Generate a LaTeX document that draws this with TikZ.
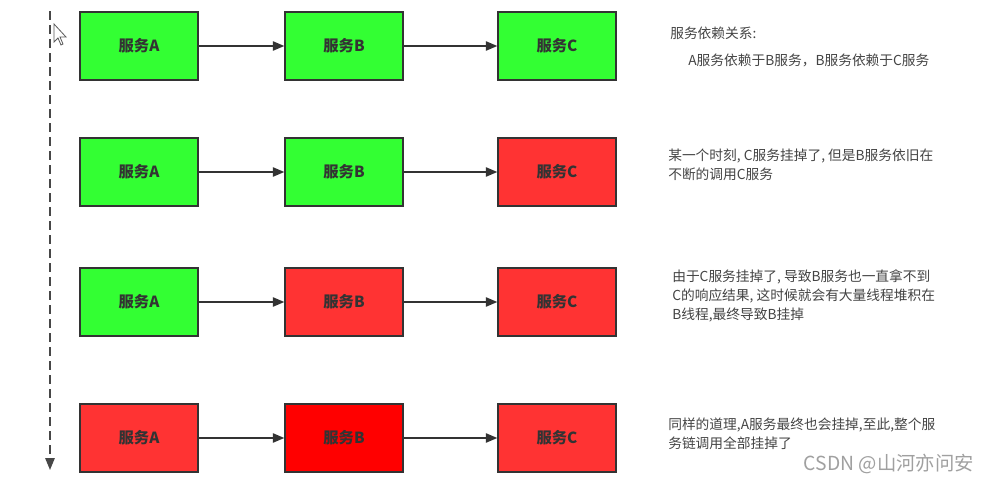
\documentclass[tikz,border=0pt]{standalone}
\usepackage{fontspec}
\setmainfont{Noto Sans CJK SC}
\usetikzlibrary{arrows.meta}
\definecolor{okgreen}{HTML}{33FF33}
\definecolor{badred}{HTML}{FF3333}
\definecolor{deadred}{HTML}{FF0000}
\definecolor{edge}{HTML}{333333}
\definecolor{txt}{HTML}{333333}
\definecolor{note}{HTML}{444444}
\definecolor{wm}{HTML}{A0A0A0}
\begin{document}
\begin{tikzpicture}[x=0.75pt,y=-0.75pt,
  svc/.style={draw=edge,line width=1.1pt,minimum width=88.5pt,minimum height=51pt,inner sep=0pt,
    font=\fontsize{11.5}{13}\selectfont\bfseries,text=txt},
  ok/.style={svc,fill=okgreen},
  bad/.style={svc,fill=badred},
  dead/.style={svc,fill=deadred},
  link/.style={draw=edge,line width=0.9pt,-{Triangle[length=8.5pt,width=7pt]}},
  notetext/.style={anchor=west,align=left,inner sep=0pt,text=note,font=\fontsize{10.3}{14.2}\selectfont},
]
\useasboundingbox (0,0) rectangle (988,483);
\fill[white] (0,0) rectangle (988,483);
% time axis
\coordinate (t0) at (50,11);
\coordinate (t1) at (50,470);
\draw[draw=edge!90,line width=1.4pt,dash pattern=on 7pt off 3.5pt,-{Triangle[length=9pt,width=7pt]}] (t0) -- (t1);
% cursor
\draw[fill=white,draw=edge!80,line width=0.6pt] (54,24) -- (54,42) -- (58,38) -- (61,45) -- (63,44) -- (60,37) -- (66,37) -- cycle;
% row 1
\node[ok] (a1) at (139,46) {服务A};
\node[ok] (b1) at (344,46) {服务B};
\node[ok] (c1) at (557,46) {服务C};
% row 2
\node[ok] (a2) at (139,172) {服务A};
\node[ok] (b2) at (344,172) {服务B};
\node[bad] (c2) at (557,172) {服务C};
% row 3
\node[ok] (a3) at (139,302) {服务A};
\node[bad] (b3) at (344,302) {服务B};
\node[bad] (c3) at (557,302) {服务C};
% row 4
\node[bad] (a4) at (139,438) {服务A};
\node[dead] (b4) at (344,438) {服务B};
\node[bad] (c4) at (557,438) {服务C};
\foreach \r in {1,2,3,4}{
  \draw[link] (a\r) -- (b\r);
  \draw[link] (b\r) -- (c\r);
}
% notes
\node[notetext] (n1a) at (670,33) {服务依赖关系:};
\node[notetext] (n1b) at (688,60) {A服务依赖于B服务，B服务依赖于C服务};
\node[notetext] (n2) at (668,165) {某一个时刻, C服务挂掉了, 但是B服务依旧在\\不断的调用C服务};
\node[notetext] (n3) at (672,296) {由于C服务挂掉了, 导致B服务也一直拿不到\\C的响应结果, 这时候就会有大量线程堆积在\\B线程,最终导致B挂掉};
\node[notetext] (n4) at (668,434) {同样的道理,A服务最终也会挂掉,至此,整个服\\务链调用全部挂掉了};
\node[anchor=east,inner sep=0pt,text=wm,font=\fontsize{14.5}{16}\selectfont] (wmk) at (974,464) {CSDN @山河亦问安};
\end{tikzpicture}
\end{document}
